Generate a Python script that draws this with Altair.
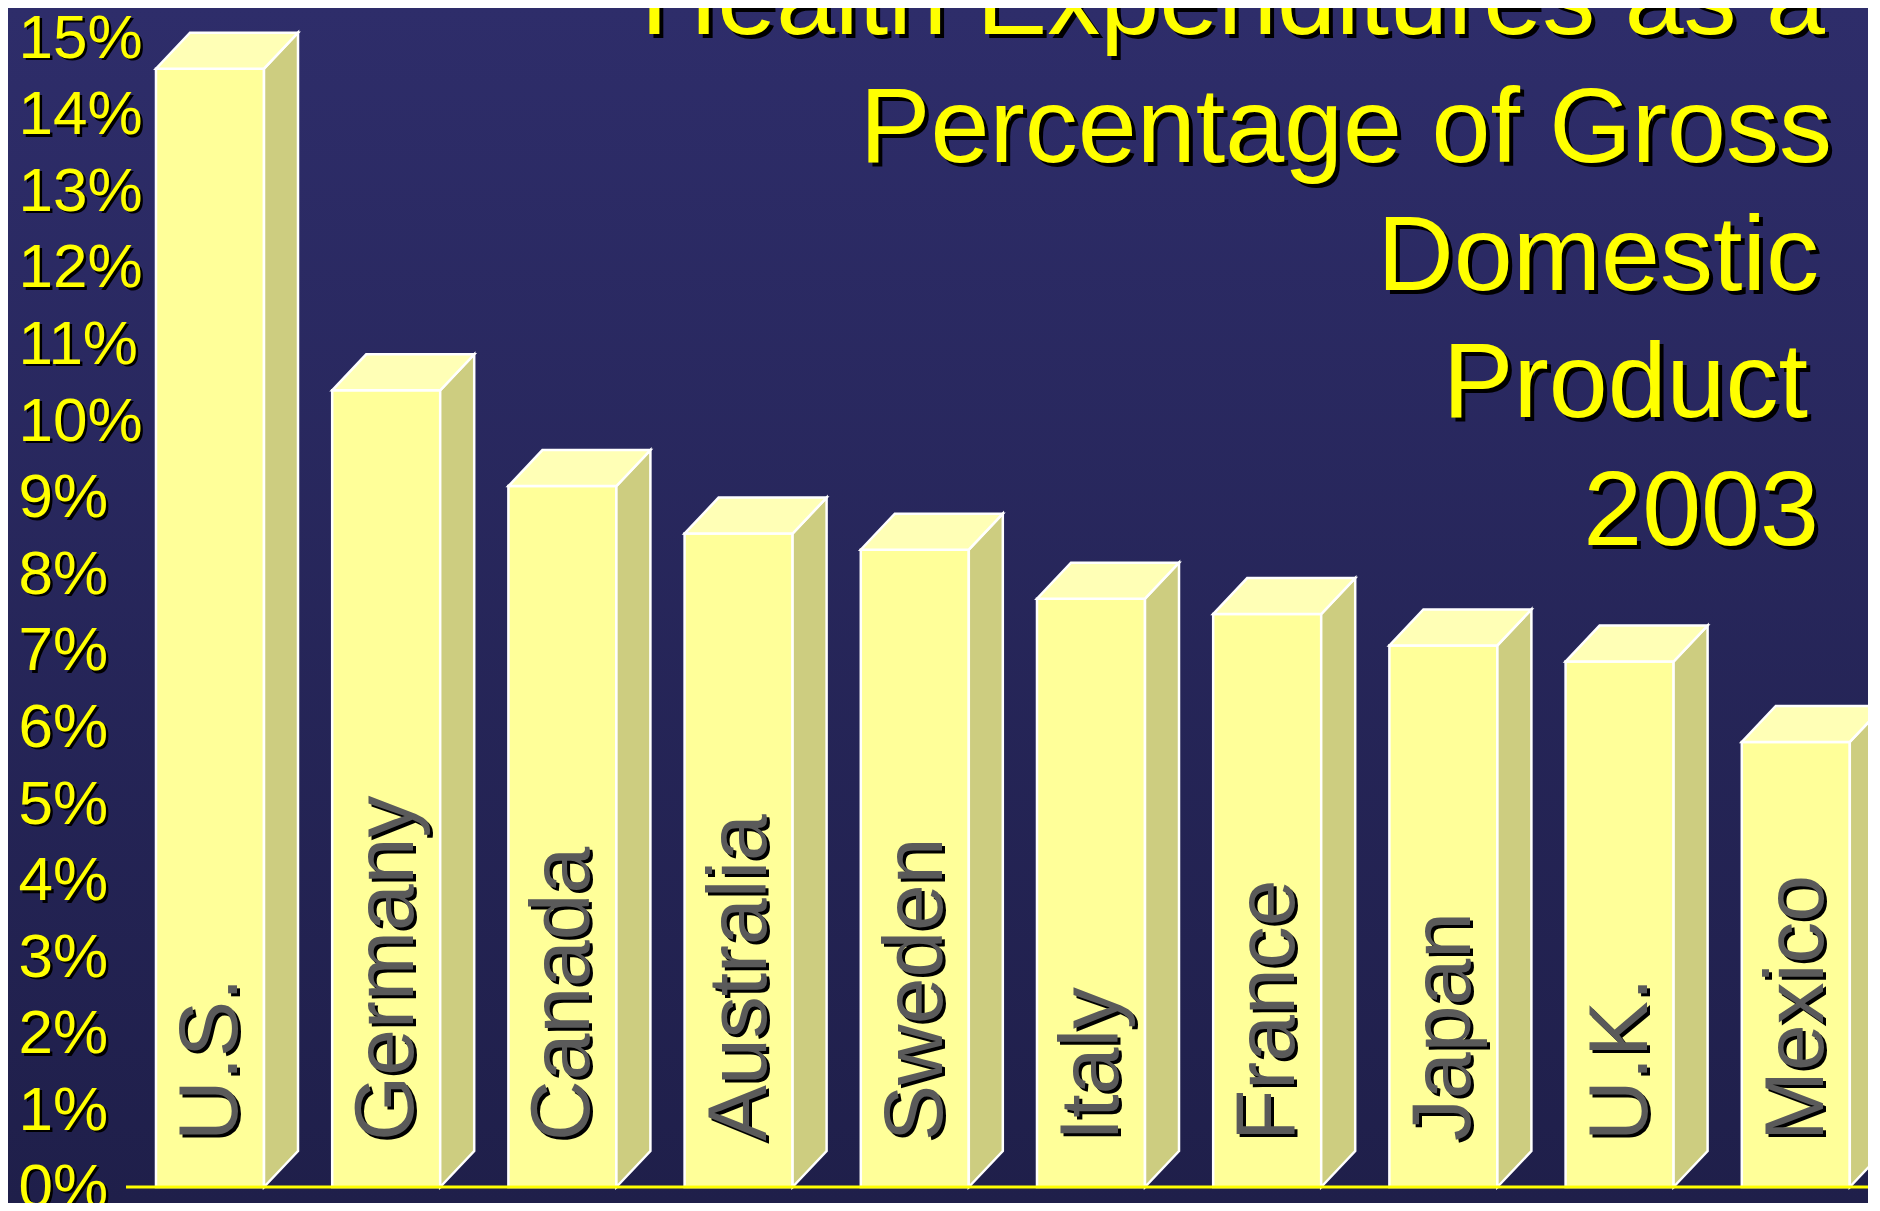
import altair as alt
import pandas as pd

# ---------------- data ----------------
countries = ["U.S.", "Germany", "Canada", "Australia", "Sweden",
             "Italy", "France", "Japan", "U.K.", "Mexico"]
values = [14.6, 10.4, 9.15, 8.53, 8.32, 7.68, 7.48, 7.07, 6.86, 5.81]
tick_values = list(range(0, 16))
tick_labels = [f"{t}%" for t in tick_values]
title_lines = ["Health Expenditures as a", "Percentage of Gross",
               "Domestic", "Product", "2003"]

# ---------------- layout / style constants ----------------
W, H = 1860, 1195
PX_PER_PCT = 76.6
BASE_Y = 1179            # pixel row of 0%
XMIN, XMAX = -1.1464, 9.4098
YMIN, YMAX = (BASE_Y - H) / PX_PER_PCT, BASE_Y / PX_PER_PCT
HALF = 0.3065            # half bar width (index units)
DX = 0.193               # 3-D depth, x (index units)
DY = 0.47                # 3-D depth, y (percent units)
FONT = "Liberation Sans, Arial, Helvetica, sans-serif"
FRONT, TOP, SIDE = "#ffff99", "#ffffb6", "#cdcd80"
YELLOW = "#ffff00"

xscale = alt.Scale(domain=[XMIN, XMAX], nice=False, zero=False)
yscale = alt.Scale(domain=[YMIN, YMAX], nice=False, zero=False)
yaxis = alt.Axis(values=tick_values, labelExpr="datum.value + '%'", title=None,
                 ticks=False, tickSize=0, domain=False, grid=False,
                 labelAlign="left", labelBaseline="middle", labelPadding=0,
                 offset=-10, labelFont=FONT, labelFontSize=62,
                 labelColor=YELLOW, labelOverlap=False, labelFlush=False,
                 zindex=1)

# ---------------- derived tables ----------------
front_df = pd.DataFrame({
    "country": countries,
    "idx": list(range(len(countries))),
    "v": values,
})
front_df["L"] = front_df["idx"] - HALF
front_df["R"] = front_df["idx"] + HALF
front_df["zero"] = 0.0

side_rows, top_rows = [], []
for c, i, v in zip(countries, range(len(countries)), values):
    L, R = i - HALF, i + HALF
    side_rows += [
        {"country": c, "x": R, "lo": 0.0, "hi": v},
        {"country": c, "x": R + DX, "lo": DY, "hi": v + DY},
    ]
    top_rows += [
        {"country": c, "x": L, "lo": v, "hi": v},
        {"country": c, "x": L + DX, "lo": v, "hi": v + DY},
        {"country": c, "x": R, "lo": v, "hi": v + DY},
        {"country": c, "x": R + DX, "lo": v + DY, "hi": v + DY},
    ]
side_df = pd.DataFrame(side_rows)
top_df = pd.DataFrame(top_rows)
tick_df = pd.DataFrame({"t": tick_values, "label": tick_labels})
one = pd.DataFrame({"a": [0]})

# ---------------- layers ----------------
bg = alt.Chart(one).mark_rect(
    color=alt.LinearGradient(
        gradient="linear", x1=0, y1=0, x2=0, y2=1,
        stops=[alt.GradientStop(offset=0, color="#2e2d6a"),
               alt.GradientStop(offset=1, color="#1f1f4a")])
).encode(x=alt.value(0), x2=alt.value(W), y=alt.value(0), y2=alt.value(H))

front = alt.Chart(front_df).mark_rect(
    fill=FRONT, stroke="white", strokeWidth=2.5, clip=True
).encode(
    x=alt.X("L:Q", scale=xscale, axis=None), x2="R:Q",
    y=alt.Y("zero:Q", scale=yscale, axis=yaxis), y2="v:Q",
)

side = alt.Chart(side_df).mark_area(
    fill=SIDE, stroke="white", strokeWidth=2.5, orient="vertical", clip=True
).encode(
    x=alt.X("x:Q", scale=xscale, axis=None),
    y=alt.Y("lo:Q", scale=yscale, axis=yaxis), y2="hi:Q",
    detail="country:N",
)

top = alt.Chart(top_df).mark_area(
    fill=TOP, stroke="white", strokeWidth=2.5, orient="vertical", clip=True
).encode(
    x=alt.X("x:Q", scale=xscale, axis=None),
    y=alt.Y("lo:Q", scale=yscale, axis=yaxis), y2="hi:Q",
    detail="country:N",
)

baseline = alt.Chart(one).mark_rule(color=YELLOW, strokeWidth=3).encode(
    x=alt.value(118), x2=alt.value(W),
    y=alt.YDatum(0, type="quantitative", scale=yscale, axis=yaxis),
)

def country_text(color, xo, yo):
    return alt.Chart(front_df).mark_text(
        angle=270, align="left", baseline="alphabetic", font=FONT,
        fontSize=84, color=color, xOffset=xo, yOffset=yo, clip=True
    ).encode(
        x=alt.X("idx:Q", scale=xscale, axis=None),
        y=alt.value(1133),
        text="country:N",
    )

lab_shadow = country_text("#000000", 30, 3)
lab = country_text("#5a5a5a", 27, 0)

title_right = [1817, 1824, 1811, 1800, 1811]
title_base = [26, 154, 282, 409, 537]
title_layers = []
for color, off in (("#000000", 4), (YELLOW, 0)):
    for line, rx, by in zip(title_lines, title_right, title_base):
        title_layers.append(
            alt.Chart(one).mark_text(
                align="right", baseline="alphabetic", font=FONT,
                fontSize=106, color=color
            ).encode(x=alt.value(rx + off), y=alt.value(by + off),
                     text=alt.value(line))
        )

tick_shadow = alt.Chart(tick_df).mark_text(
    align="left", baseline="middle", font=FONT, fontSize=62,
    color="#000000", yOffset=3
).encode(
    x=alt.value(13),
    y=alt.Y("t:Q", scale=yscale, axis=yaxis),
    text="label:N",
)

chart = alt.layer(
    bg, front, side, top, baseline, lab_shadow, lab, *title_layers, tick_shadow
).properties(
    width=W, height=H, padding=0,
    autosize=alt.AutoSizeParams(type="none"),
    background="#1f1f4a",
).configure_view(stroke=None)

chart.save("out.html", embed_options={"renderer": "svg", "actions": False})
